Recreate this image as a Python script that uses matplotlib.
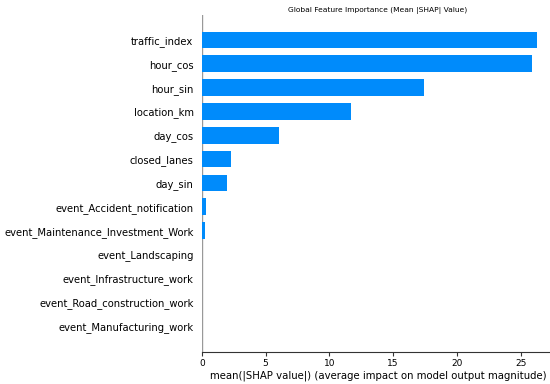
import matplotlib.pyplot as plt

# features listed top to bottom, mean |SHAP| values
features = [
    "traffic_index", "hour_cos", "hour_sin", "location_km", "day_cos",
    "closed_lanes", "day_sin", "event_Accident_notification",
    "event_Maintenance_Investment_Work", "event_Landscaping",
    "event_Infrastructure_work", "event_Road_construction_work",
    "event_Manufacturing_work",
]
importance = [26.3, 25.9, 17.4, 11.7, 6.05, 2.3, 2.0, 0.3, 0.28, 0.04, 0.03, 0.02, 0.01]
xticks = [0, 5, 10, 15, 20, 25]

fig = plt.figure(figsize=(5.5, 3.84), dpi=100)
ax = fig.add_axes([0.367, 0.083, 0.64, 0.878])

n = len(features)
ypos = list(range(n - 1, -1, -1))
ax.barh(ypos, importance, height=0.7, color="#008bfb", align="center")

ax.set_yticks(ypos)
ax.set_yticklabels(features, fontsize=7.2)
ax.tick_params(axis="y", length=0, pad=6)
ax.tick_params(axis="x", labelsize=6.5, length=3, color="#333333", pad=2)
ax.set_xticks(xticks)
ax.set_xlim(0, 27.6)
ax.set_ylim(-1.1, n - 1 + 1.05)

ax.axvline(0, color="#999999", linewidth=1, zorder=-1)
for s in ["right", "top", "left"]:
    ax.spines[s].set_visible(False)
ax.spines["bottom"].set_color("#333333")

ax.set_xlabel("mean(|SHAP value|) (average impact on model output magnitude)", fontsize=7.3, labelpad=2)
ax.set_title("Global Feature Importance (Mean |SHAP| Value)", fontsize=5.4, pad=2)

fig.savefig("out.png", dpi=100)
